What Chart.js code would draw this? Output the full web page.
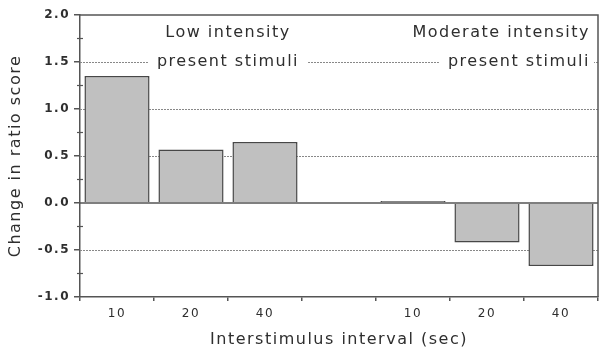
<!DOCTYPE html>
<html>
<head>
<meta charset="utf-8">
<script src="https://cdn.jsdelivr.net/npm/chart.js@4"></script>
<style>
  body { margin: 0; background: #fff; }
  #wrap { width: 604px; height: 349px; }
</style>
</head>
<body>
<div id="wrap"><canvas id="chart" width="604" height="349"></canvas></div>
<script>
// interval categories (4th slot is the gap between the two groups)
const intervals = ['10', '20', '40', '', '10', '20', '40'];
const ratioChange = [1.35, 0.57, 0.65, null, 0.02, -0.42, -0.67];
const yTicks = [-1.0, -0.5, 0.0, 0.5, 1.0, 1.5, 2.0];
const groupLabels = [
    { lines: ['Low intensity', 'present stimuli'], slot: 1.5, align: 'center' },
    { lines: ['Moderate intensity', 'present stimuli'], slot: 6, align: 'right' }
];

const ink = '#2e2e2e';
const font = 'DejaVu Sans';

// the scanned lettering is widely spaced
const spacing = {
    id: 'spacing',
    beforeUpdate(chart) { chart.ctx.letterSpacing = '1.5px'; },
    beforeDraw(chart) { chart.ctx.letterSpacing = '1.5px'; }
};

// grid lines, borders, minor ticks and group labels
const decor = {
    id: 'decor',
    beforeDatasetsDraw(chart) {
        const ctx = chart.ctx;
        const a = chart.chartArea;
        const y = chart.scales.y;
        ctx.save();
        ctx.strokeStyle = '#888';
        ctx.lineWidth = 1;
        ctx.setLineDash([2, 1]);
        yTicks.forEach(v => {
            if (v === 0 || v === 2 || v === -1) return;
            const py = Math.round(y.getPixelForValue(v)) + 0.5;
            ctx.beginPath();
            ctx.moveTo(a.left, py);
            ctx.lineTo(a.right, py);
            ctx.stroke();
        });
        ctx.restore();
    },
    afterDatasetsDraw(chart) {
        const ctx = chart.ctx;
        const a = chart.chartArea;
        const x = chart.scales.x;
        const y = chart.scales.y;
        ctx.save();
        // group labels, breaking the 1.5 grid line
        ctx.font = '16px "' + font + '"';
        ctx.textBaseline = 'middle';
        const y1 = y.getPixelForValue(1.5);
        groupLabels.forEach(g => {
            let px = x.getPixelForValue(g.slot);
            if (g.align === 'right') px = a.right - 8;
            ctx.textAlign = g.align;
            g.lines.forEach((t, i) => {
                const ty = y1 - (1 - i) * 29;
                const w = ctx.measureText(t).width;
                const left = g.align === 'right' ? px - w : px - w / 2;
                if (i === 1) {
                    const r = Math.min(left + w + 9, a.right - 4);
                    ctx.fillStyle = '#fff';
                    ctx.fillRect(left - 9, ty - 4, r - left + 9, 8);
                }
                ctx.fillStyle = ink;
                ctx.fillText(t, px, ty);
            });
        });
        ctx.strokeStyle = '#555';
        ctx.lineWidth = 1.5;
        // zero line, top and right border
        const z = y.getPixelForValue(0);
        ctx.beginPath();
        ctx.moveTo(a.left, z); ctx.lineTo(a.right, z);
        ctx.moveTo(a.left, a.top); ctx.lineTo(a.right, a.top); ctx.lineTo(a.right, a.bottom);
        ctx.stroke();
        // minor ticks
        ctx.lineWidth = 1.2;
        for (let v = -0.75; v < 2; v += 0.5) {
            const py = y.getPixelForValue(v);
            ctx.beginPath();
            ctx.moveTo(a.left - 3, py); ctx.lineTo(a.left + 3, py);
            ctx.stroke();
        }
        ctx.restore();
    }
};

new Chart(document.getElementById('chart'), {
    type: 'bar',
    data: {
        labels: intervals,
        datasets: [{
            data: ratioChange,
            backgroundColor: '#c0c0c0',
            borderColor: '#474747',
            borderWidth: 1.5,
            barPercentage: 0.88,
            categoryPercentage: 1.0
        }]
    },
    options: {
        responsive: false,
        animation: false,
        layout: { padding: { top: 15, right: 6, left: 6 } },
        plugins: { legend: { display: false }, tooltip: { enabled: false } },
        scales: {
            x: {
                offset: true,
                grid: { offset: true, drawOnChartArea: false, tickLength: 4, color: '#555', lineWidth: 1.5 },
                border: { color: '#555', width: 1.5 },
                ticks: { color: ink, font: { family: font, size: 12 }, padding: 6 },
                title: { display: true, text: 'Interstimulus interval (sec)', color: ink,
                         font: { family: font, size: 16 }, padding: { top: 3, bottom: 0 } },
                afterFit: s => { s.height = 52; }
            },
            y: {
                min: -1, max: 2,
                ticks: { stepSize: 0.5, color: ink, font: { family: font, size: 12, weight: 'bold' },
                         callback: v => v.toFixed(1), padding: 4 },
                grid: { drawOnChartArea: false, tickLength: 6, color: '#555', lineWidth: 1.5 },
                border: { color: '#555', width: 1.5 },
                title: { display: true, text: 'Change in ratio score', color: ink,
                         font: { family: font, size: 16 }, padding: { top: 0, bottom: 4 } },
                afterFit: s => { s.width = 74; }
            }
        }
    },
    plugins: [spacing, decor]
});
</script>
</body>
</html>
